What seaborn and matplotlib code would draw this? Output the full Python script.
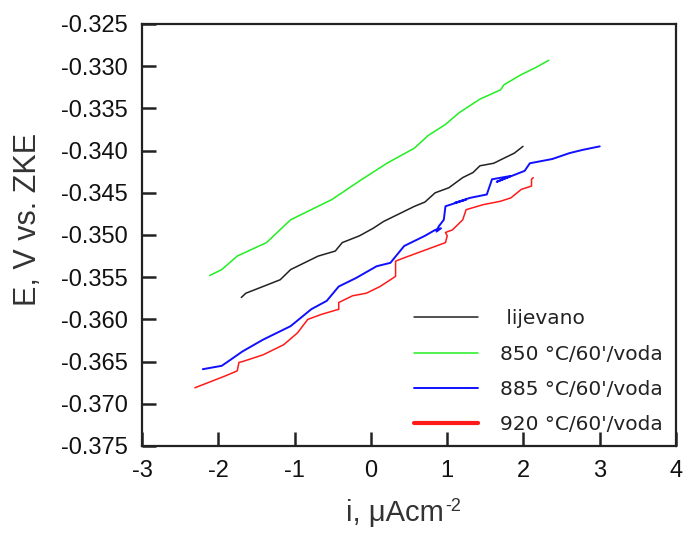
import matplotlib
matplotlib.use("Agg")
import matplotlib.pyplot as plt
import seaborn as sns

# curves: i (uA/cm2) and E (V vs. ZKE)
i_lijevano = [-1.698, -1.639, -1.413, -1.188, -1.052, -0.872, -0.691, -0.466, -0.375, -0.150,
              0.031, 0.166, 0.392, 0.572, 0.708, 0.843, 1.023, 1.204, 1.339, 1.430,
              1.610, 1.745, 1.881, 1.994]
E_lijevano = [-0.3574, -0.3569, -0.3561, -0.3553, -0.3541, -0.3533, -0.3525, -0.3519, -0.3509, -0.3501,
              -0.3492, -0.3484, -0.3474, -0.3466, -0.3461, -0.3450, -0.3444, -0.3432, -0.3426, -0.3418,
              -0.3415, -0.3409, -0.3403, -0.3395]

i_850 = [-2.113, -1.955, -1.752, -1.368, -1.052, -0.782, -0.511, -0.150, 0.211, 0.572,
         0.753, 0.978, 1.159, 1.430, 1.700, 1.745, 1.971, 2.152, 2.332]
E_850 = [-0.3548, -0.3541, -0.3525, -0.3509, -0.3482, -0.3470, -0.3458, -0.3436, -0.3415, -0.3397,
         -0.3382, -0.3369, -0.3355, -0.3339, -0.3328, -0.3322, -0.3310, -0.3302, -0.3293]

i_885 = [-2.203, -1.955, -1.842, -1.684, -1.413, -1.052, -0.782, -0.578, -0.421, -0.195,
         0.076, 0.256, 0.437, 0.708, 0.843, 0.920, 0.860, 0.888, 0.956, 0.978,
         1.249, 1.100, 1.300, 1.520, 1.588, 1.836, 1.650, 2.016, 2.084, 2.377,
         2.603, 2.783, 3.000]
E_885 = [-0.3659, -0.3655, -0.3648, -0.3638, -0.3624, -0.3608, -0.3588, -0.3578, -0.3561, -0.3551,
         -0.3537, -0.3533, -0.3513, -0.3501, -0.3494, -0.3492, -0.3496, -0.3490, -0.3482, -0.3466,
         -0.3458, -0.3462, -0.3456, -0.3452, -0.3434, -0.3430, -0.3437, -0.3424, -0.3415, -0.3410,
         -0.3403, -0.3399, -0.3395]

i_920 = [-2.307, -2.135, -1.910, -1.752, -1.729, -1.684, -1.413, -1.143, -0.962, -0.827,
         -0.646, -0.421, -0.421, -0.240, -0.060, 0.121, 0.324, 0.324, 0.437, 0.798,
         0.978, 1.001, 0.978, 1.069, 1.204, 1.249, 1.475, 1.700, 1.836, 1.971,
         2.106, 2.106, 2.129]
E_920 = [-0.3681, -0.3675, -0.3667, -0.3661, -0.3651, -0.3650, -0.3642, -0.3630, -0.3616, -0.3600,
         -0.3594, -0.3588, -0.3580, -0.3572, -0.3569, -0.3561, -0.3549, -0.3531, -0.3527, -0.3515,
         -0.3509, -0.3501, -0.3497, -0.3494, -0.3482, -0.3470, -0.3464, -0.3460, -0.3456, -0.3446,
         -0.3442, -0.3434, -0.3432]

x_ticks = [-3, -2, -1, 0, 1, 2, 3, 4]
y_ticks = [-0.375, -0.370, -0.365, -0.360, -0.355, -0.350, -0.345, -0.340, -0.335, -0.330, -0.325]

sns.set_style("ticks")
plt.rcParams.update({
    "font.family": ["Liberation Sans", "DejaVu Sans"],
    "axes.unicode_minus": False,
    "xtick.major.pad": 10, "ytick.major.pad": 10,
    "xtick.labelsize": 17, "ytick.labelsize": 17,
    "xtick.color": "#111111", "ytick.color": "#111111",
})

fig = plt.figure(figsize=(6.83, 5.33), dpi=100)
ax = fig.add_axes([142 / 683, 1 - 446 / 533, (676 - 142) / 683, (446 - 24) / 533])

sns.lineplot(x=i_lijevano, y=E_lijevano, sort=False, estimator=None, color="#222222", lw=1.1, ax=ax, label=" lijevano")
sns.lineplot(x=i_850, y=E_850, sort=False, estimator=None, color="#22ee22", lw=1.1, ax=ax, label="850 °C/60'/voda")
sns.lineplot(x=i_885, y=E_885, sort=False, estimator=None, color="#1010ff", lw=1.4, ax=ax, label="885 °C/60'/voda")
sns.lineplot(x=i_920, y=E_920, sort=False, estimator=None, color="#ff1a1a", lw=1.1, ax=ax, label="920 °C/60'/voda")

xmin, xmax = x_ticks[0], x_ticks[-1]
ymin, ymax = y_ticks[0], y_ticks[-1]
ax.set_xlim(xmin, xmax)
ax.set_ylim(ymin, ymax)
ax.set_xticks(x_ticks)
ax.set_xticklabels([str(v) for v in x_ticks])
ax.set_yticks(y_ticks)
ax.set_yticklabels([f"{v:.3f}" for v in y_ticks])
ax.tick_params(length=0)
for s in ax.spines.values():
    s.set_linewidth(1.6)
    s.set_color("#222222")

# inward tick marks (about 14 px) on the bottom and left axes, in data units
tick_y = (ymax - ymin) * 14 / 422
tick_x = (xmax - xmin) * 14 / 534
ax.vlines(x_ticks, ymin, ymin + tick_y, color="#222222", lw=1.8, zorder=6, clip_on=False)
ax.hlines(y_ticks, xmin, xmin + tick_x, color="#222222", lw=1.8, zorder=6, clip_on=False)

ax.set_xlabel("i, μAcm", fontsize=21, color="#333333")
ax.xaxis.set_label_coords(0.474, -0.125)
ax.set_ylabel("E, V vs. ZKE", fontsize=22, color="#333333")
ax.yaxis.set_label_coords(-0.185, 0.536)

# superscript "-2" after the x label, with a plain hyphen as in the original
fig.canvas.draw()
bb = ax.xaxis.label.get_window_extent().transformed(fig.transFigure.inverted())
fig.text(bb.x1 + 0.002, bb.y1 + 0.002, "-2", fontsize=13, color="#333333", ha="left", va="top")

leg = ax.legend(loc="lower left", bbox_to_anchor=(0.49, 0.005), frameon=False,
                prop={"family": "DejaVu Sans", "size": 14.5}, handlelength=3.2,
                handletextpad=1.1, labelspacing=0.8, borderpad=0)
for t in leg.get_texts():
    t.set_color("#222222")
leg.get_lines()[3].set_linewidth(3)

fig.savefig("out.png", dpi=100)
